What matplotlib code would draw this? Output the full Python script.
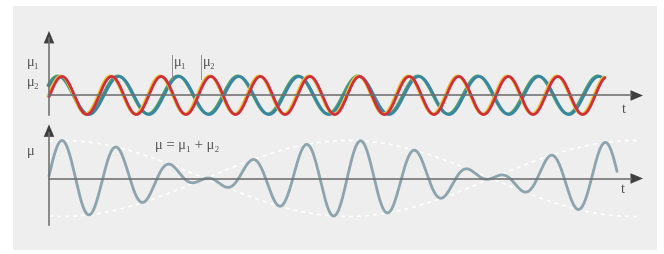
import numpy as np
import matplotlib
matplotlib.use("Agg")
import matplotlib.pyplot as plt
from matplotlib.patches import Rectangle

# ---- data (time axis in px-like units, amplitude units) ----
period_mu1 = 60.0      # blue wave period
period_mu2 = 49.6      # red wave period
phase_mu1 = 10.0       # time of first blue crest
phase_mu2 = 13.0       # time of first red crest
phase_sum = 13.0       # time of first crest of the sum (bottom panel)
amplitude = 1.0
t_end_mu1 = 553.0
t_end_mu2 = 556.0
t_end_sum = 568.0
t_end_env = 591.0
labels_top = ["μ₁", "μ₂"]
label_bottom = "μ"
label_sum = "μ = μ₁ + μ₂"
label_t = "t"

# ---- styles ----
W, H = 664, 254
BG = "#eeeeee"
AXC = "#707070"
HEADC = "#3f3f3f"
TXT = "#505050"
RED, YEL = "#cf2f3c", "#f1c232"
BLUE, GRN = "#3a86a2", "#4f9f6a"
SUMC = "#8da3ad"
PX = 0.72  # points per pixel at dpi 100
FS = 10.5

fig = plt.figure(figsize=(W / 100, H / 100), dpi=100)
fig.patch.set_facecolor("white")
fig.add_artist(Rectangle((13 / W, 4 / H), (657 - 13) / W, (249 - 5) / H,
                         transform=fig.transFigure, color=BG, zorder=0, lw=0))

def make_ax(zero_px, unit_px):
    ax = fig.add_axes([0, 0, 1, 1])
    ax.set_xlim(-49, W - 49)
    ax.set_ylim(-(H - zero_px) / unit_px, zero_px / unit_px)
    ax.axis("off")
    ax.patch.set_alpha(0)
    return ax

def arrow(ax, base, tip):
    ax.annotate("", xy=tip, xytext=base,
                arrowprops=dict(arrowstyle="-|>,head_length=0.9,head_width=0.38",
                                mutation_scale=10, color=HEADC, lw=0,
                                shrinkA=0, shrinkB=0))

serif = ["Liberation Serif", "DejaVu Serif"]

# ---------------- top panel ----------------
top = make_ax(95.5, 19.0)
t1 = np.linspace(0, t_end_mu1, 1500)
t2 = np.linspace(0, t_end_mu2, 1500)
mu1 = amplitude * np.cos(2 * np.pi * (t1 - phase_mu1) / period_mu1)
mu2 = amplitude * np.cos(2 * np.pi * (t2 - phase_mu2) / period_mu2)

top.plot(t1 - 1.2, mu1 + 0.03, color=GRN, lw=2.8 * PX, solid_capstyle="round", zorder=2)
top.plot(t1, mu1, color=BLUE, lw=2.8 * PX, solid_capstyle="round", zorder=3)
top.plot(t2 - 1.2, mu2 + 0.03, color=YEL, lw=2.8 * PX, solid_capstyle="round", zorder=4)
top.plot(t2, mu2, color=RED, lw=2.8 * PX, solid_capstyle="round", zorder=5)

# axes
top.plot([0, 582], [0, 0], color=AXC, lw=1.6 * PX, zorder=6)
top.plot([0, 0], [-1.05, 3.0], color=AXC, lw=1.6 * PX, zorder=6)
arrow(top, (580, 0), (594, 0))
arrow(top, (0, 2.8), (0, 3.4))

top.text(-22, 1.74, labels_top[0], family=serif, fontsize=FS, color=TXT,
         ha="left", va="center")
top.text(-22, 0.7, labels_top[1], family=serif, fontsize=FS, color=TXT,
         ha="left", va="center")
for xm, lab in [(123, labels_top[0]), (152, labels_top[1])]:
    top.plot([xm, xm], [2.15, 0.85], color="#8a8a8a", lw=0.9 * PX, zorder=6)
    top.text(xm + 1.5, 1.72, lab, family=serif, fontsize=FS, color=TXT,
             ha="left", va="center")
top.text(575, -0.75, label_t, family=serif, fontsize=FS, color=TXT,
         ha="center", va="center")

# ---------------- bottom panel ----------------
bot = make_ax(178.5, 19.0)
ts = np.linspace(0, t_end_sum, 2000)
s = (amplitude * np.cos(2 * np.pi * (ts - phase_sum) / period_mu1)
     + amplitude * np.cos(2 * np.pi * (ts - phase_sum) / period_mu2))
te = np.linspace(0, t_end_env, 800)
dfreq = 1 / period_mu2 - 1 / period_mu1
env = 2 * amplitude * np.cos(np.pi * dfreq * (te - phase_sum))
bot.plot(te, env, color="white", lw=1.6 * PX, ls=(0, (2.5, 2.5)), zorder=2)
bot.plot(te, -env, color="white", lw=1.6 * PX, ls=(0, (2.5, 2.5)), zorder=2)
bot.plot(ts, s, color=SUMC, lw=2.8 * PX, solid_capstyle="round", zorder=3)

bot.plot([0, 582], [0, 0], color=AXC, lw=1.6 * PX, zorder=6)
bot.plot([0, 0], [-2.45, 2.4], color=AXC, lw=1.6 * PX, zorder=6)
arrow(bot, (580, 0), (594, 0))
arrow(bot, (0, 2.2), (0, 2.85))

bot.text(-22, 1.4, label_bottom, family=serif, fontsize=FS, color=TXT,
         ha="left", va="center")
bot.text(106, 1.72, label_sum, family=serif, fontsize=FS, color=TXT,
         ha="left", va="center")
bot.text(574, -0.6, label_t, family=serif, fontsize=FS, color=TXT,
         ha="center", va="center")

fig.savefig("out.png", dpi=100, facecolor=fig.get_facecolor())
